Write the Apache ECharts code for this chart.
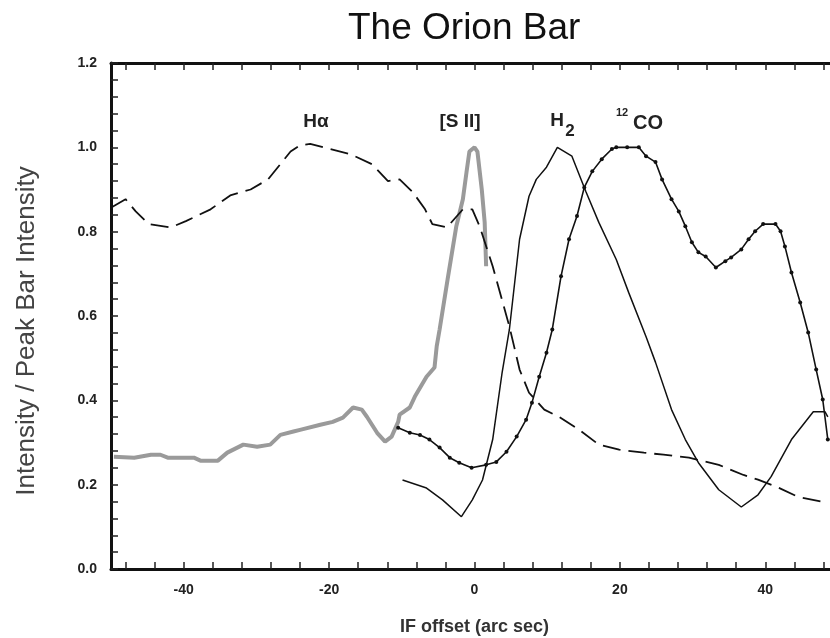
<!DOCTYPE html>
<html>
<head>
<meta charset="utf-8">
<script src="https://cdn.jsdelivr.net/npm/echarts@6/dist/echarts.min.js"></script>
<style>
  html, body { margin: 0; padding: 0; background: #fff; }
  #chart { width: 830px; height: 638px; }
</style>
</head>
<body>
<div id="chart"></div>
<script>
// tick positions
const xLabelTicks = [-40, -20, 0, 20, 40]
const xMinorTicks = [-48, -44, -40, -36, -32, -28, -24, -20, -16, -12, -8, -4, 0, 4, 8, 12, 16, 20, 24, 28, 32, 36, 40, 44, 48]

// H-alpha (dashed)
const haData = [
  [-49.9, 0.858], [-48.0, 0.877], [-46.6, 0.848], [-44.8, 0.818], [-41.8, 0.810], [-39.7, 0.825],
  [-36.3, 0.853], [-33.6, 0.886], [-30.8, 0.900], [-28.4, 0.924], [-25.3, 0.990], [-24.0, 1.005],
  [-22.6, 1.008], [-19.9, 0.996], [-17.1, 0.984], [-14.1, 0.960], [-11.9, 0.920], [-10.3, 0.924],
  [-8.5, 0.894], [-6.8, 0.853], [-5.8, 0.818], [-3.8, 0.810], [-1.6, 0.853], [-0.3, 0.853],
  [0.7, 0.813], [2.5, 0.718], [4.8, 0.575], [6.2, 0.473], [7.5, 0.418], [9.6, 0.378],
  [11.6, 0.361], [14.4, 0.330], [17.1, 0.295], [19.9, 0.283], [23.3, 0.276], [26.0, 0.271],
  [29.5, 0.264], [33.6, 0.247], [37.0, 0.223], [39.0, 0.212], [41.8, 0.193], [44.5, 0.171],
  [48.6, 0.157]
]

// [S II] (grey)
const siiData = [
  [-49.6, 0.266], [-46.8, 0.264], [-44.5, 0.271], [-43.2, 0.271], [-42.2, 0.264], [-38.6, 0.264],
  [-37.7, 0.257], [-35.3, 0.257], [-34.0, 0.276], [-31.8, 0.295], [-29.9, 0.290], [-28.1, 0.295],
  [-26.7, 0.318], [-24.9, 0.326], [-24.0, 0.330], [-21.2, 0.342], [-19.5, 0.349], [-18.1, 0.359],
  [-16.7, 0.383], [-15.5, 0.378], [-14.8, 0.361], [-13.4, 0.323], [-12.3, 0.302], [-11.4, 0.314],
  [-10.5, 0.349], [-10.3, 0.366], [-8.9, 0.383], [-8.2, 0.409], [-6.6, 0.456], [-5.5, 0.478],
  [-5.2, 0.528], [-4.8, 0.568], [-3.7, 0.687], [-2.5, 0.813], [-1.6, 0.877], [-1.1, 0.941],
  [-0.7, 0.990], [0.0, 1.000], [0.4, 0.990], [1.0, 0.900], [1.4, 0.822], [1.6, 0.718]
]

// H2 (thin solid)
const h2Data = [
  [-9.9, 0.211], [-6.6, 0.192], [-4.4, 0.164], [-1.8, 0.124], [-0.3, 0.164], [1.1, 0.211],
  [2.5, 0.307], [3.8, 0.466], [4.8, 0.568], [6.2, 0.782], [7.5, 0.884], [8.5, 0.924],
  [9.9, 0.953], [11.4, 1.000], [13.4, 0.979], [15.3, 0.896], [17.1, 0.822], [19.5, 0.734],
  [21.2, 0.656], [23.6, 0.551], [24.9, 0.490], [27.1, 0.378], [29.0, 0.307], [30.8, 0.252],
  [33.6, 0.188], [36.7, 0.147], [39.0, 0.176], [40.8, 0.219], [43.6, 0.307], [46.6, 0.373],
  [48.2, 0.373], [48.6, 0.361]
]

// 12CO (line with dots)
const coData = [
  [-10.5, 0.335], [-8.9, 0.323], [-7.5, 0.318], [-6.2, 0.307], [-4.8, 0.288], [-3.4, 0.264],
  [-2.1, 0.252], [-0.4, 0.240], [1.6, 0.247], [3.0, 0.254], [4.4, 0.278], [5.8, 0.314],
  [7.1, 0.354], [7.9, 0.394], [8.9, 0.456], [9.9, 0.513], [10.7, 0.568], [11.9, 0.694],
  [13.0, 0.782], [14.1, 0.837], [15.1, 0.905], [16.2, 0.943], [17.5, 0.972], [18.9, 0.996],
  [19.5, 1.000], [21.0, 1.000], [22.6, 1.000], [23.6, 0.979], [24.9, 0.965], [25.8, 0.924],
  [27.1, 0.877], [28.1, 0.848], [29.0, 0.813], [29.9, 0.775], [30.8, 0.751], [31.8, 0.741],
  [33.2, 0.715], [34.5, 0.730], [35.3, 0.739], [36.7, 0.758], [37.7, 0.782], [38.6, 0.801],
  [39.7, 0.818], [41.4, 0.818], [42.1, 0.801], [42.7, 0.765], [43.6, 0.703], [44.8, 0.632],
  [45.9, 0.561], [47.0, 0.473], [47.9, 0.402], [48.6, 0.307]
]

const font = 'Liberation Sans, Arial, sans-serif'
const chart = echarts.init(document.getElementById('chart'))

const xBase = {
  type: 'value',
  min: -50,
  max: 50,
  axisLine: { onZero: false, lineStyle: { color: '#111', width: 3 } },
  axisTick: { inside: true, length: 7, customValues: xMinorTicks, lineStyle: { color: '#222', width: 1.5 } },
  splitLine: { show: false }
}
const yBase = {
  type: 'value',
  min: 0,
  max: 1.2,
  interval: 0.2,
  axisLine: { show: true, onZero: false, lineStyle: { color: '#111', width: 3 } },
  axisTick: { inside: true, length: 7, lineStyle: { color: '#222', width: 1.5 } },
  minorTick: { show: true, splitNumber: 5, length: 7, lineStyle: { color: '#222', width: 1.5 } },
  splitLine: { show: false }
}

const labelStyle = { fontFamily: font, fontWeight: 'bold', fill: '#222', align: 'center', verticalAlign: 'middle' }

chart.setOption({
  backgroundColor: '#ffffff',
  animation: false,
  title: {
    text: 'The Orion Bar',
    left: 343,
    top: 5,
    textStyle: { fontFamily: font, fontWeight: 'normal', fontSize: 37, color: '#111' }
  },
  grid: { left: 111, right: -8, top: 63, bottom: 69, outerBoundsMode: 'none', containLabel: false },
  xAxis: [
    Object.assign({}, xBase, {
      position: 'bottom',
      name: 'IF offset (arc sec)',
      nameLocation: 'middle',
      nameGap: 49,
      nameTextStyle: { fontFamily: font, fontWeight: 'bold', fontSize: 18, color: '#333' },
      axisLabel: {
        customValues: xLabelTicks,
        margin: 14,
        fontFamily: font,
        fontWeight: 'bold',
        fontSize: 14,
        color: '#222'
      }
    }),
    Object.assign({}, xBase, { position: 'top', axisLabel: { show: false } })
  ],
  yAxis: [
    Object.assign({}, yBase, {
      position: 'left',
      axisLabel: {
        margin: 14,
        fontFamily: font,
        fontWeight: 'bold',
        fontSize: 14,
        color: '#222',
        formatter: v => v.toFixed(1)
      }
    }),
    Object.assign({}, yBase, { position: 'right', axisLabel: { show: false } })
  ],
  graphic: [
    {
      type: 'text', x: 27, y: 331, rotation: Math.PI / 2,
      style: { text: 'Intensity / Peak Bar Intensity', fontFamily: font, fontSize: 26, fill: '#444', align: 'center', verticalAlign: 'middle' }
    },
    { type: 'text', x: 316, y: 122, style: Object.assign({ text: 'Hα', fontSize: 19 }, labelStyle) },
    { type: 'text', x: 460, y: 122, style: Object.assign({ text: '[S II]', fontSize: 19 }, labelStyle) },
    { type: 'text', x: 557, y: 121, style: Object.assign({ text: 'H', fontSize: 19 }, labelStyle) },
    { type: 'text', x: 570, y: 131, style: Object.assign({ text: '2', fontSize: 17 }, labelStyle) },
    { type: 'text', x: 622, y: 113, style: Object.assign({ text: '12', fontSize: 11 }, labelStyle) },
    { type: 'text', x: 648, y: 123, style: Object.assign({ text: 'CO', fontSize: 20 }, labelStyle) }
  ],
  series: [
    {
      name: 'Hα',
      type: 'line',
      data: haData,
      showSymbol: false,
      lineStyle: { color: '#111', width: 1.8, type: [18, 8] },
      z: 3
    },
    {
      name: '[S II]',
      type: 'line',
      data: siiData,
      showSymbol: false,
      lineStyle: { color: '#9a9a9a', width: 4 },
      z: 2
    },
    {
      name: 'H2',
      type: 'line',
      data: h2Data,
      showSymbol: false,
      lineStyle: { color: '#111', width: 1.5 },
      z: 4
    },
    {
      name: '12CO',
      type: 'line',
      data: coData,
      symbol: 'circle',
      symbolSize: 4,
      itemStyle: { color: '#111' },
      lineStyle: { color: '#111', width: 1.6 },
      z: 5
    }
  ]
})
</script>
</body>
</html>
